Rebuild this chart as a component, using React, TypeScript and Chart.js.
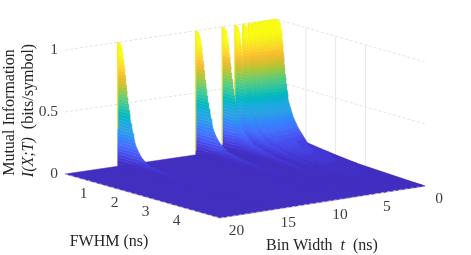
import React, { useEffect, useRef } from "react";
import { Chart, registerables } from "chart.js";

Chart.register(...registerables);

// ---------- data ----------
const fwhmGrid = [0, 0.08, 0.13, 0.19, 0.245, 0.3, 0.41, 0.58, 0.75, 1.06, 1.85, 2.9, 5];
const ridgeBinWidths = [15, 7.6, 5.1, 3.9, 3.15, 2.65, 2.3, 2.0, 1.8, 1.6, 1.45, 1.3, 1.2, 1.1, 1.0, 0.9, 0.8, 0.7, 0.6, 0.5, 0.4, 0.3, 0.2, 0.1, 0];
const ridgeEdgeLow = [0.3, 0.03, 0.05, 0.22, 0.5, 0.6, 0.7, 0.75, 0.8, 0.85, 0.9, 0.9, 0.9, 0.9, 0.9, 0.9, 0.9, 0.9, 0.9, 0.9, 0.9, 0.9, 0.9, 0.9, 0.9];
const ridgeProfiles = [
  [1, 1, 0.96, 0.87, 0.74, 0.6, 0.4, 0.21, 0.13, 0.065, 0.045, 0.036, 0],
  [1, 1, 0.97, 0.88, 0.76, 0.64, 0.44, 0.24, 0.16, 0.09, 0.055, 0.038, 0],
  [1, 1, 0.98, 0.9, 0.78, 0.65, 0.45, 0.28, 0.19, 0.12, 0.07, 0.04, 0],
  [1, 1, 0.98, 0.9, 0.77, 0.64, 0.44, 0.29, 0.2, 0.13, 0.075, 0.041, 0],
  [1, 1, 0.98, 0.9, 0.77, 0.63, 0.43, 0.29, 0.21, 0.135, 0.08, 0.042, 0],
  [1, 1, 0.98, 0.9, 0.76, 0.62, 0.42, 0.29, 0.21, 0.135, 0.08, 0.042, 0],
  [1, 1, 0.99, 0.9, 0.76, 0.62, 0.41, 0.28, 0.21, 0.13, 0.08, 0.042, 0],
  [1, 1, 0.99, 0.9, 0.76, 0.61, 0.4, 0.28, 0.205, 0.125, 0.078, 0.04, 0],
  [1, 1, 0.99, 0.9, 0.75, 0.61, 0.4, 0.275, 0.2, 0.12, 0.076, 0.04, 0],
  [1, 1, 0.99, 0.9, 0.75, 0.6, 0.39, 0.27, 0.2, 0.115, 0.074, 0.038, 0],
  [1, 1, 0.99, 0.9, 0.75, 0.6, 0.385, 0.265, 0.195, 0.11, 0.072, 0.037, 0],
  [1, 1, 0.99, 0.9, 0.75, 0.6, 0.385, 0.26, 0.19, 0.105, 0.07, 0.036, 0],
  [1, 1, 0.99, 0.9, 0.75, 0.6, 0.38, 0.26, 0.19, 0.1, 0.068, 0.035, 0],
  [1, 1, 0.99, 0.9, 0.75, 0.595, 0.38, 0.255, 0.185, 0.097, 0.066, 0.034, 0],
  [1, 1, 0.99, 0.9, 0.74, 0.595, 0.38, 0.255, 0.18, 0.094, 0.064, 0.033, 0],
  [1, 1, 0.99, 0.9, 0.74, 0.59, 0.38, 0.25, 0.18, 0.09, 0.062, 0.032, 0],
  [1, 1, 0.99, 0.9, 0.74, 0.59, 0.38, 0.25, 0.178, 0.088, 0.06, 0.03, 0],
  [1, 1, 0.99, 0.9, 0.74, 0.59, 0.378, 0.25, 0.176, 0.086, 0.058, 0.028, 0],
  [1, 1, 0.99, 0.9, 0.74, 0.59, 0.378, 0.25, 0.175, 0.084, 0.056, 0.027, 0],
  [1, 1, 0.99, 0.9, 0.74, 0.59, 0.377, 0.25, 0.174, 0.082, 0.054, 0.026, 0],
  [1, 1, 0.99, 0.9, 0.74, 0.585, 0.377, 0.25, 0.173, 0.08, 0.052, 0.025, 0],
  [1, 1, 0.99, 0.9, 0.74, 0.585, 0.376, 0.25, 0.173, 0.078, 0.05, 0.024, 0],
  [1, 1, 0.99, 0.9, 0.74, 0.585, 0.376, 0.25, 0.173, 0.077, 0.049, 0.022, 0],
  [1, 1, 0.99, 0.9, 0.74, 0.585, 0.376, 0.25, 0.173, 0.075, 0.048, 0.021, 0],
  [1, 1, 0.99, 0.9, 0.74, 0.585, 0.376, 0.25, 0.173, 0.074, 0.048, 0.02, 0],
];
const zTicks = [0, 0.5, 1];
const fwhmTicks = [1, 2, 3, 4];
const binWidthTicks = [0, 5, 10, 15, 20];
const backWallLines = [1, 2, 3];

// parula colour stops
const parulaStops = [
  [62, 38, 168], [69, 55, 213], [71, 82, 240], [70, 112, 253], [50, 135, 252],
  [45, 160, 229], [28, 170, 223], [1, 184, 195], [44, 196, 165], [87, 204, 131],
  [142, 202, 85], [197, 194, 49], [240, 187, 50], [253, 208, 46], [247, 233, 36], [249, 251, 20],
];

// ---------- view (corners of the box as seen) ----------
const FMAX = 5;
const TMAX = 20;
const Z_PX = 124;
const FLOOR_Z = 0.035;
const COLOR_GAIN = 1.1;
function project(f: number, t: number, z: number) {
  const u = f / FMAX;
  const v = t / TMAX;
  const bx = 276 + (65 - 276) * v;
  const by = 143 + (174 - 143) * v;
  const fx = 425 + (220 - 425) * v;
  const fy = 186 + (218 - 186) * v;
  return { x: bx + (fx - bx) * u, y: by + (fy - by) * u - z * Z_PX };
}
function parula(z: number) {
  const p = Math.min(0.9999, Math.max(0, z)) * (parulaStops.length - 1);
  const i = Math.floor(p);
  const k = p - i;
  const a = parulaStops[i];
  const b = parulaStops[i + 1];
  return `rgb(${a.map((c, j) => Math.round(c + (b[j] - c) * k)).join(",")})`;
}
// largest FWHM at which the profile still reaches z
function fwhmAt(profile: number[], z: number) {
  for (let i = profile.length - 1; i > 0; i--) {
    if (profile[i - 1] >= z) {
      const a = profile[i - 1];
      const b = profile[i];
      if (b >= z) return fwhmGrid[i];
      return fwhmGrid[i - 1] + ((a - z) / (a - b)) * (fwhmGrid[i] - fwhmGrid[i - 1]);
    }
  }
  return 0;
}

const poly = (points: { x: number; y: number }[], color: string) => ({
  data: [...points, points[0]],
  showLine: true,
  fill: "shape",
  backgroundColor: color,
  borderColor: color,
  borderWidth: 0.5,
  pointRadius: 0,
  tension: 0,
});
const stroke = (points: { x: number; y: number }[], color: string, width: number, dash: number[] = []) => ({
  data: points,
  showLine: true,
  fill: false,
  borderColor: color,
  borderWidth: width,
  borderDash: dash,
  pointRadius: 0,
  tension: 0,
});

function buildDatasets() {
  const back: any[] = [];
  const GRID = "#e3e3e3";
  // wall grid lines
  for (const z of zTicks) {
    if (z === 0) continue;
    back.push(stroke([project(0, TMAX, z), project(0, 0, z), project(FMAX, 0, z)], GRID, 1, [3, 2]));
  }
  for (const f of backWallLines) {
    back.push(stroke([project(f, 0, 0), project(f, 0, 1)], "#e8e8e8", 1));
  }
  // floor
  back.push(poly([project(0, 0, 0), project(0, TMAX, 0), project(FMAX, TMAX, 0), project(FMAX, 0, 0)], parula(FLOOR_Z)));
  // ridges, far to near
  const nb = 40;
  for (let r = ridgeBinWidths.length - 1; r >= 0; r--) {
    const t = ridgeBinWidths[r];
    const profile = ridgeProfiles[r];
    for (let b = 0; b < nb; b++) {
      const za = b / nb;
      const zb = (b + 1) / nb;
      const mid = (za + zb) / 2;
      back.push(poly([
        project(0, t, za), project(0, t, zb),
        project(fwhmAt(profile, zb), t, zb),
        project(fwhmAt(profile, za), t, za),
      ], parula(Math.max(FLOOR_Z, mid * COLOR_GAIN))));
    }
    back.push(stroke([project(0, t, ridgeEdgeLow[r]), project(0, t, 1)], "#f4e61e", 1));
  }
  // front edges
  back.push(stroke([project(0, TMAX, 0), project(FMAX, TMAX, 0), project(FMAX, 0, 0)], "#e6e6e6", 0.6, [3, 3]));
  return back.reverse();
}

const SERIF = '"Liberation Serif", "Times New Roman", serif';
const TICK_COLOR = "#404040";
const TITLE_COLOR = "#262626";
const tTickDx = [14, 13, 17.5, 17, 16.5];

const textPlugin = {
  id: "boxText",
  afterDraw(chart: any) {
    const ctx = chart.ctx;
    ctx.save();
    ctx.textBaseline = "middle";
    ctx.fillStyle = TICK_COLOR;
    ctx.font = `15.5px ${SERIF}`;
    ctx.textAlign = "right";
    for (const z of zTicks) {
      const p = project(0, TMAX, z);
      ctx.fillText(String(z), p.x - 7, p.y - 0.5);
    }
    ctx.textAlign = "center";
    for (const f of fwhmTicks) {
      const p = project(f, TMAX, 0);
      ctx.fillText(String(f), p.x - 12.5, p.y + 11.5);
    }
    binWidthTicks.forEach((t, i) => {
      const p = project(FMAX, t, 0);
      ctx.fillText(String(t), p.x + tTickDx[i], p.y + 13);
    });
    ctx.fillStyle = TITLE_COLOR;
    ctx.font = `16px ${SERIF}`;
    ctx.fillText("FWHM (ns)", 109, 242);
    const seg = (parts: [string, boolean][], cx: number, cy: number) => {
      const fonts = parts.map(([, it]) => `${it ? "italic " : ""}16px ${SERIF}`);
      let w = 0;
      parts.forEach(([s], i) => { ctx.font = fonts[i]; w += ctx.measureText(s).width; });
      let x = cx - w / 2;
      ctx.textAlign = "left";
      parts.forEach(([s], i) => {
        ctx.font = fonts[i];
        ctx.fillText(s, x, cy);
        x += ctx.measureText(s).width;
      });
    };
    seg([["Bin Width  ", false], ["t", true], ["  (ns)", false]], 322, 246);
    ctx.save();
    ctx.translate(10, 112.5);
    ctx.rotate(-Math.PI / 2);
    ctx.textAlign = "center";
    ctx.font = `16px ${SERIF}`;
    ctx.fillText("Mutual Information", 0, 0);
    ctx.restore();
    ctx.save();
    ctx.translate(29, 110.5);
    ctx.rotate(-Math.PI / 2);
    seg([["I(X;T)", true], ["  (bits/symbol)", false]], 0, 0);
    ctx.restore();
    ctx.restore();
  },
};

export default function App() {
  const ref = useRef<HTMLCanvasElement>(null);
  useEffect(() => {
    const chart = new Chart(ref.current as HTMLCanvasElement, {
      type: "scatter",
      data: { datasets: buildDatasets() },
      options: {
        animation: false,
        responsive: false,
        events: [],
        layout: { padding: 0 },
        plugins: { legend: { display: false }, tooltip: { enabled: false }, title: { display: false } },
        scales: {
          x: { type: "linear", display: false, min: 0, max: 471 },
          y: { type: "linear", display: false, min: 0, max: 255, reverse: true },
        },
      },
      plugins: [textPlugin],
    } as any);
    return () => chart.destroy();
  }, []);
  return (
    <canvas
      ref={ref}
      width={471}
      height={255}
      style={{ position: "fixed", left: 0, top: 0, width: 471, height: 255, display: "block", background: "#fff" }}
    />
  );
}
